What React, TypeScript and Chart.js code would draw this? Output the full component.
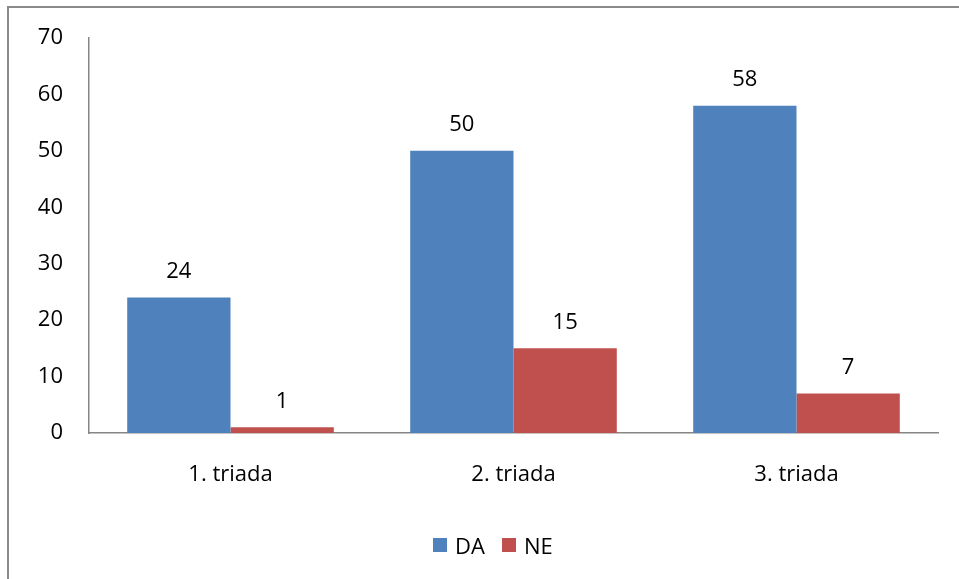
import React, { useEffect, useRef } from "react";
import { Chart, registerables } from "chart.js";

Chart.register(...registerables);

const categories = ["1. triada", "2. triada", "3. triada"];
const seriesNames = ["DA", "NE"];
const daValues = [24, 50, 58];
const neValues = [1, 15, 7];
const seriesColors = ["#4F81BD", "#C0504D"];
const yTicks = [0, 10, 20, 30, 40, 50, 60, 70];

const FONT = "'Open Sans', sans-serif";
const FS = 22;

const valueLabels = {
  id: "valueLabels",
  afterDatasetsDraw(chart: any) {
    const ctx = chart.ctx;
    ctx.save();
    ctx.font = `${FS}px ${FONT}`;
    ctx.fillStyle = "#000";
    ctx.textAlign = "center";
    ctx.textBaseline = "middle";
    chart.data.datasets.forEach((ds: any, i: number) => {
      const meta = chart.getDatasetMeta(i);
      meta.data.forEach((bar: any, j: number) => {
        ctx.fillText(String(ds.data[j]), bar.x, bar.y - 26);
      });
    });
    ctx.restore();
  },
};

export default function App() {
  const ref = useRef<HTMLCanvasElement | null>(null);
  useEffect(() => {
    if (!ref.current) return;
    const chart = new Chart(ref.current, {
      type: "bar",
      data: {
        labels: categories,
        datasets: [
          { label: seriesNames[0], data: daValues, backgroundColor: seriesColors[0], categoryPercentage: 0.73, barPercentage: 1 },
          { label: seriesNames[1], data: neValues, backgroundColor: seriesColors[1], categoryPercentage: 0.73, barPercentage: 1 },
        ],
      },
      options: {
        animation: false,
        responsive: false,
        layout: { padding: { left: 0, right: 21, top: 38, bottom: 57 } },
        plugins: {
          tooltip: { enabled: false },
          legend: { display: false },
        },
        scales: {
          x: {
            grid: { display: false },
            border: { display: true, color: "#868686", width: 1.5 },
            ticks: { color: "#000", font: { family: FONT, size: FS }, padding: 21 },
            afterFit: (s: any) => { s.height = 89; },
          },
          y: {
            min: 0,
            max: 70,
            grid: { display: false },
            border: { display: true, color: "#868686", width: 1.5 },
            afterBuildTicks: (s: any) => { s.ticks = yTicks.map((v) => ({ value: v })); },
            ticks: { color: "#000", font: { family: FONT, size: FS }, padding: 18 },
            afterFit: (s: any) => { s.width = 89; },
          },
        },
      },
      plugins: [valueLabels],
    });
    return () => chart.destroy();
  }, []);

  const legendLeft = [433, 502];
  return (
    <>
      <div
        style={{
          position: "absolute",
          left: 7,
          top: 6,
          width: 1100,
          height: 700,
          borderLeft: "2px solid #8a8a8a",
          borderTop: "2px solid #8a8a8a",
          boxSizing: "border-box",
        }}
      />
      <div style={{ position: "absolute", left: 0, top: 0, width: 959, height: 579, overflow: "hidden" }}>
        <canvas ref={ref} width={959} height={579} style={{ display: "block", width: 959, height: 579 }} />
        {seriesNames.map((name, i) => (
          <div
            key={name}
            style={{
              position: "absolute",
              left: legendLeft[i],
              top: 530,
              height: 30,
              display: "flex",
              alignItems: "center",
              fontFamily: FONT,
              fontSize: FS,
              color: "#000",
              whiteSpace: "nowrap",
            }}
          >
            <span style={{ display: "inline-block", width: 14, height: 14, background: seriesColors[i], marginRight: 8 }} />
            <span>{name}</span>
          </div>
        ))}
      </div>
    </>
  );
}
